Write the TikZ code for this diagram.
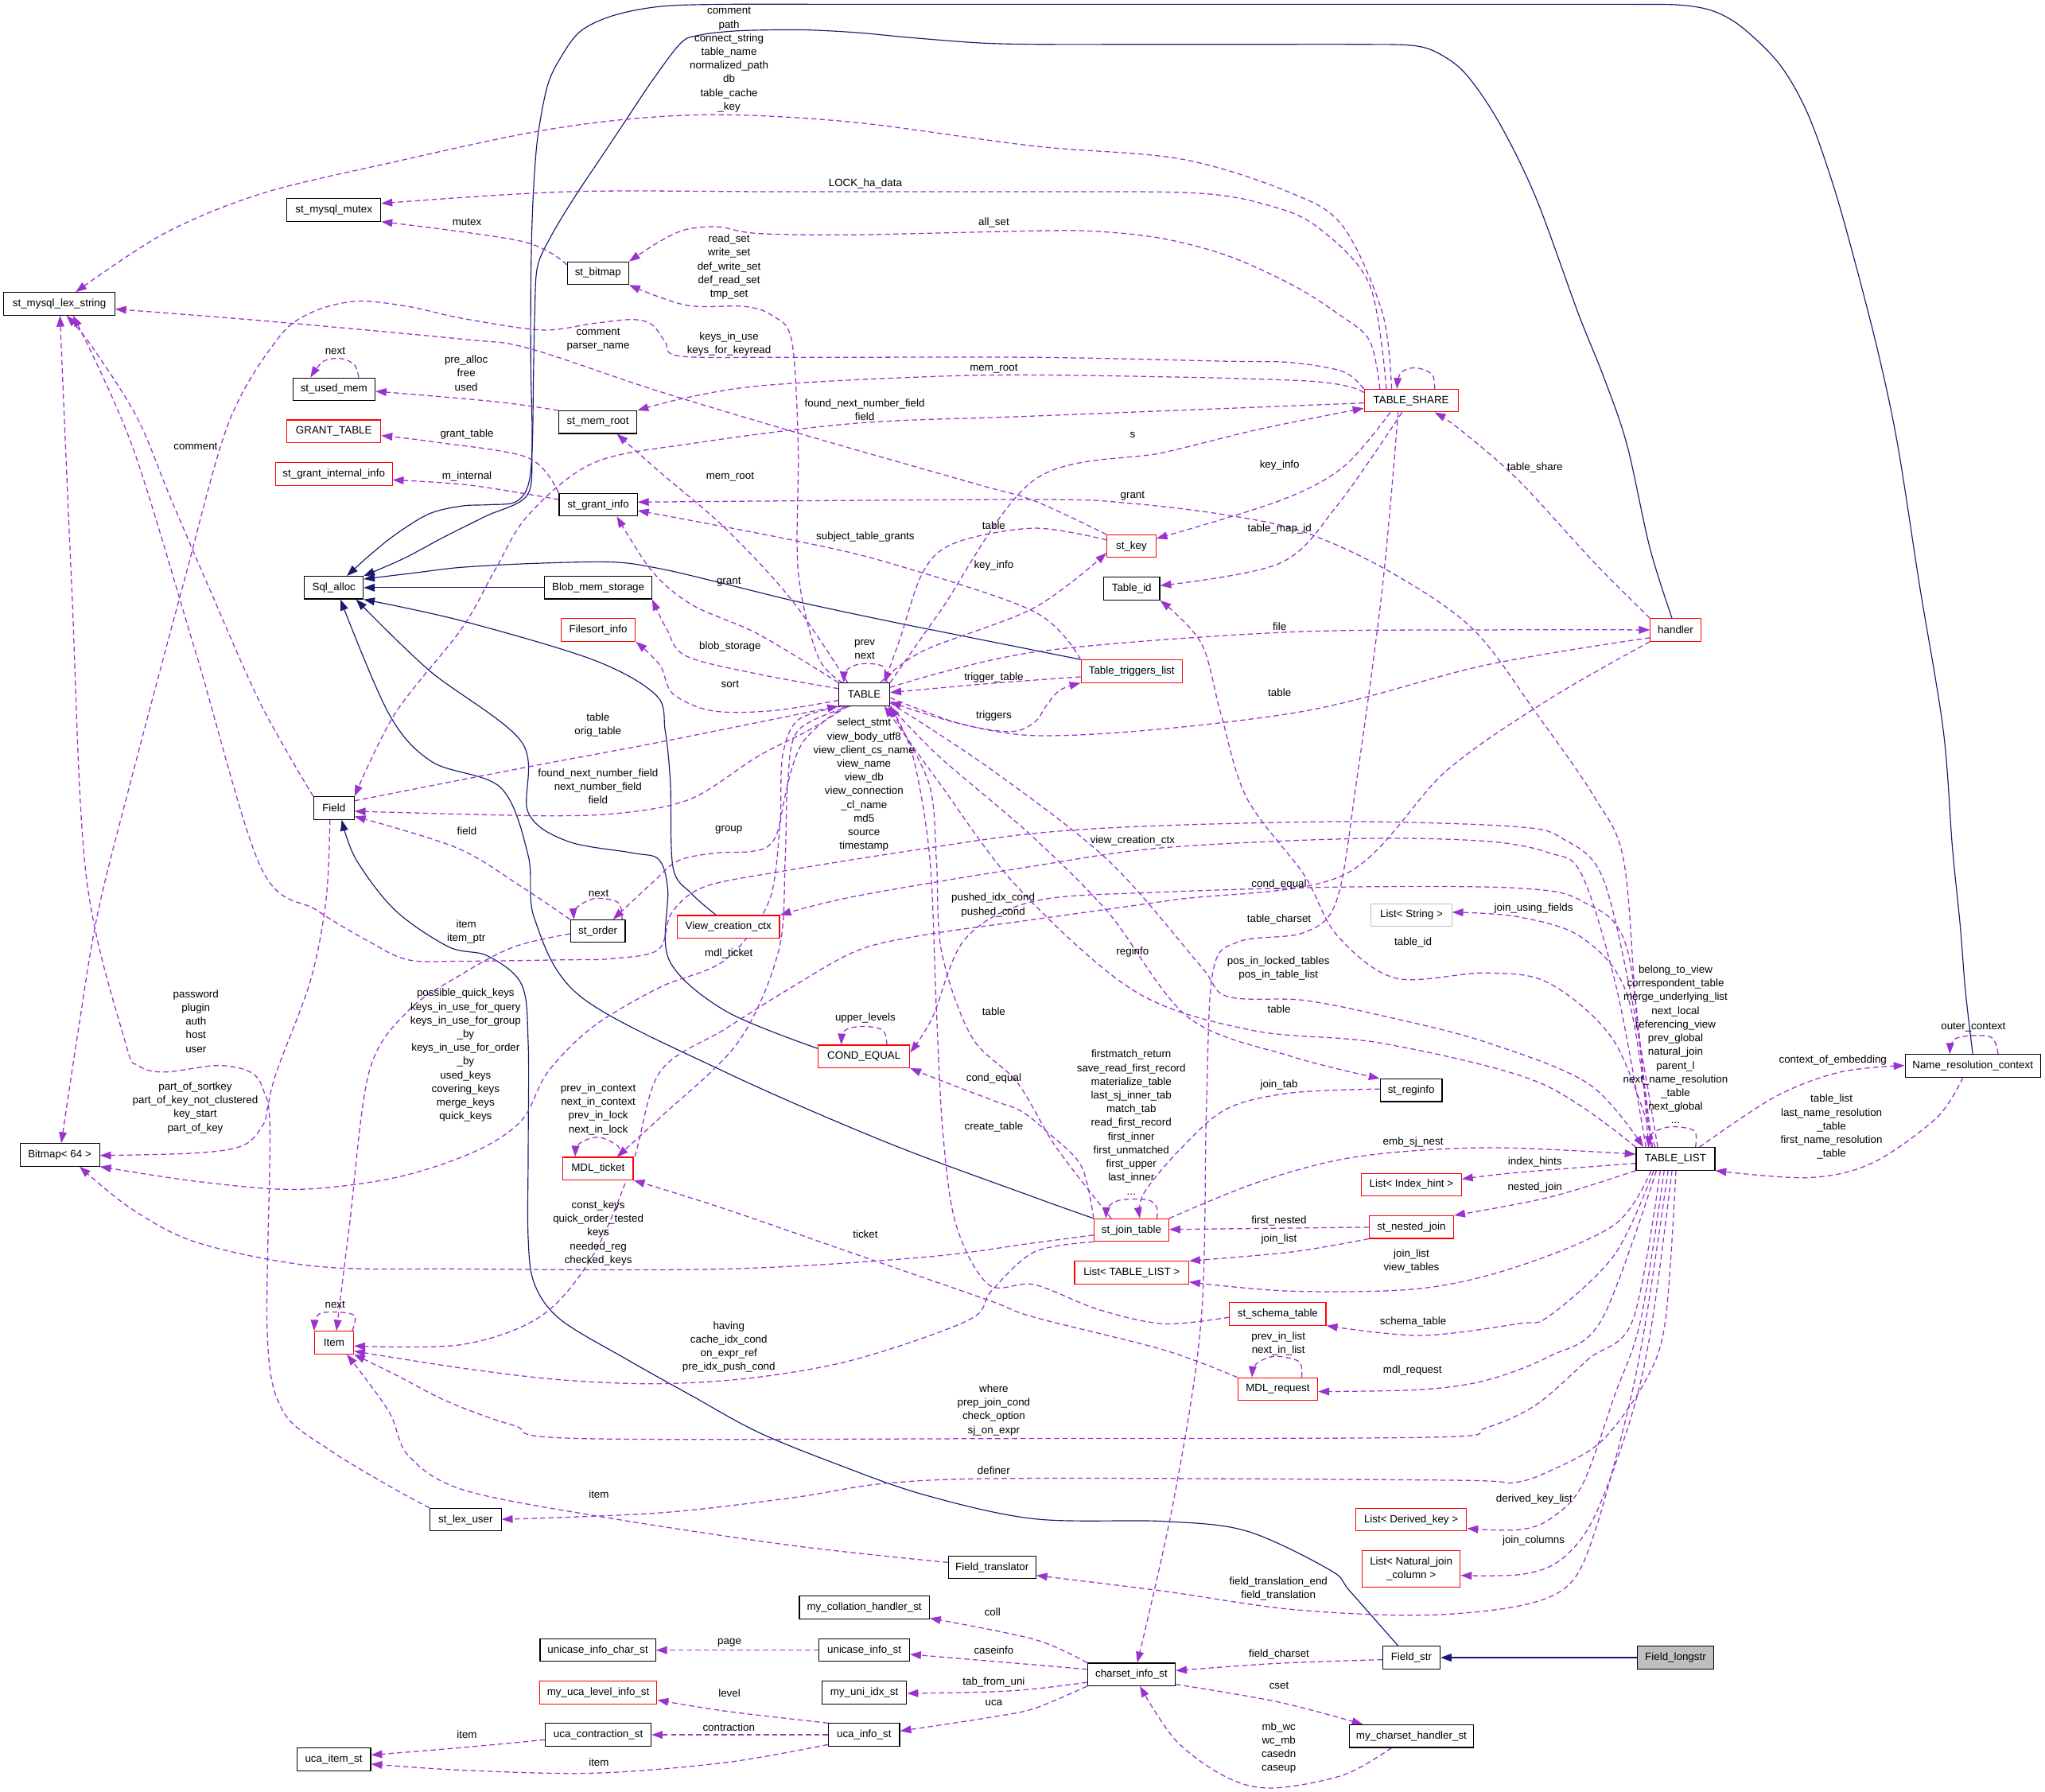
\documentclass[tikz,border=0pt]{standalone}
\usepackage{fontspec}
\setmainfont{Liberation Sans}
\usetikzlibrary{arrows.meta,calc,backgrounds}
\definecolor{edgec}{HTML}{9A32CD}
\definecolor{inhc}{HTML}{191970}
\definecolor{gbord}{HTML}{BFBFBF}
\newcommand\labfont{\fontsize{5.8}{7.47}\selectfont}
\begin{document}
\begin{tikzpicture}[x=0.025cm,y=-0.025cm,
  box/.style={draw=black,fill=white,line width=0.5pt,minimum height=0.4325cm,inner sep=0pt,font=\labfont},
  rbox/.style={box,draw=red},
  gbox/.style={box,draw=gbord},
  W/.style={minimum width=#1*0.025cm},
  ed/.style={draw=edgec,line width=0.55pt,dash pattern=on 2.8pt off 1.8pt,-{Triangle[length=6pt,width=4.2pt]}},
  inh/.style={draw=inhc,line width=0.5pt,-{Triangle[length=6pt,width=4.2pt]}},
  lbl/.style={font=\labfont,align=center,inner sep=0pt},
  sm/.style={smooth,tension=0.55}]
\path[use as bounding box] (0,0) rectangle (1568,1374);
% ---------------- nodes
\node[box,W=85] (lex) at (45.5,233) {st\_mysql\_lex\_string};
\node[box,W=72] (mutex) at (256,161) {st\_mysql\_mutex};
\node[box,W=47] (bitmap) at (458.5,209.5) {st\_bitmap};
\node[box,W=63] (usedmem) at (256,298.4) {st\_used\_mem};
\node[box,W=60] (memroot) at (458.4,323.7) {st\_mem\_root};
\node[rbox,W=72] (granttable) at (256,330.7) {GRANT\_TABLE};
\node[rbox,W=89.5] (gii) at (256,363.5) {st\_grant\_internal\_info};
\node[box,W=60] (grantinfo) at (458.7,387) {st\_grant\_info};
\node[box,W=45] (sqlalloc) at (256,450.6) {Sql\_alloc};
\node[box,W=82] (blob) at (458.7,450.6) {Blob\_mem\_storage};
\node[rbox,W=57] (filesort) at (458.7,483) {Filesort\_info};
\node[box,W=39] (table) at (662.7,532.4) {TABLE};
\node[box,W=31] (field) at (256,619.6) {Field};
\node[box,W=42] (order) at (458.4,714) {st\_order};
\node[rbox,W=78.4] (vcc) at (558.5,710.6) {View\_creation\_ctx};
\node[rbox,W=70] (condeq) at (662.5,810) {COND\_EQUAL};
\node[box,W=61] (bitmap64) at (45.8,885.5) {Bitmap< 64 >};
\node[rbox,W=54] (mdlticket) at (458.5,896) {MDL\_ticket};
\node[rbox,W=30] (item) at (256.1,1029.5) {Item};
\node[box,W=54.6] (lexuser) at (357,1165.2) {st\_lex\_user};
\node[box,W=67] (ftrans) at (760.7,1201.9) {Field\_translator};
\node[box,W=99.6] (collh) at (662.7,1232.6) {my\_collation\_handler\_st};
\node[box,W=88.5] (uics) at (458.4,1265.3) {unicase\_info\_char\_st};
\node[box,W=69.4] (uis) at (662.7,1265.3) {unicase\_info\_st};
\node[rbox,W=90] (ucalevel) at (458.7,1297.8) {my\_uca\_level\_info\_st};
\node[box,W=65] (uniidx) at (662.7,1297.8) {my\_uni\_idx\_st};
\node[box,W=81] (ucacontr) at (458.7,1330.2) {uca\_contraction\_st};
\node[box,W=54.6] (ucainfo) at (662.5,1330.2) {uca\_info\_st};
\node[box,W=56.6] (ucaitem) at (255.9,1349) {uca\_item\_st};
\node[rbox,W=72] (tshare) at (1082,307.2) {TABLE\_SHARE};
\node[rbox,W=37.5] (stkey) at (867.5,418.8) {st\_key};
\node[box,W=43] (tableid) at (867.7,451.3) {Table\_id};
\node[rbox,W=38.6] (handler) at (1284.7,483) {handler};
\node[rbox,W=77.6] (ttl) at (867.7,514.7) {Table\_triggers\_list};
\node[gbox,W=61.8] (liststring) at (1082.2,701.6) {List< String >};
\node[box,W=47.4] (reginfo) at (1082,836) {st\_reginfo};
\node[box,W=103.8] (nrc) at (1512.6,817.2) {Name\_resolution\_context};
\node[box,W=60.3] (tlist) at (1284.7,888.6) {TABLE\_LIST};
\node[rbox,W=76.6] (listidx) at (1082.2,908.3) {List< Index\_hint >};
\node[rbox,W=57.3] (jointab) at (867.5,943.2) {st\_join\_table};
\node[rbox,W=64.7] (nestedjoin) at (1082.2,940.9) {st\_nested\_join};
\node[rbox,W=87.5] (listtl) at (867.7,975.8) {List< TABLE\_LIST >};
\node[rbox,W=74] (schema) at (979.7,1007.5) {st\_schema\_table};
\node[rbox,W=61.3] (mdlreq) at (979.7,1065.1) {MDL\_request};
\node[rbox,W=85] (listdk) at (1082,1165.2) {List< Derived\_key >};
\node[rbox,W=75.2,minimum height=0.7cm,align=center] (listnj) at (1082,1202.9) {List< Natural\_join\\\_column >};
\node[box,W=44] (fieldstr) at (1082.2,1271) {Field\_str};
\node[box,W=58.3,fill=gbord] (fieldlong) at (1284.7,1271) {Field\_longstr};
\node[box,W=67.3] (charset) at (867.5,1283.9) {charset\_info\_st};
\node[box,W=95.4] (charseth) at (1082.2,1331.2) {my\_charset\_handler\_st};
% ---------------- edges
\begin{pgfonlayer}{background}
\fill[white] (0,0) rectangle (1568,1374);
% inheritance
\draw[inh] plot[sm] coordinates {(nrc.north) (1507,760) (1503,710) (1497,650) (1490,560) (1472,450) (1455,341) (1440,270) (1421,196) (1405,140) (1386,87) (1365,50) (1337,22) (1315,9) (1290,4) (1250,3.3) (1150,3.3) (1050,3.3) (950,3.3) (850,3.3) (750,3.3) (650,3.3) (556,3.3) (506,5) (470,12) (445,24) (430,44) (420,65) (413,100) (410,130) (408,170) (407,220) (407,280) (408,341) (405,372) (395,385) (375,387) (354,388) (329,394) (303,410) (282,427) (sqlalloc.north -| 266,0)};
\draw[inh] plot[sm] coordinates {(handler.north -| 1282,0) (1265,420) (1247.6,341.5) (1230,290) (1210,240) (1178,152.5) (1150,95) (1125,58) (1105,42) (1084,35) (1040,34) (960,34) (880,34) (800,34) (753,33) (700,29) (657,25) (620,23) (587,23) (560,24) (536,27) (522,33) (500,62) (480,92) (460,122) (440,152) (422,182) (412,205) (410,240) (409,290) (408,345) (404,380) (372,396) (340,412) (310,428) (sqlalloc.north east)};
\draw[inh] (blob.west) -- (sqlalloc.east);
\draw[inh] plot[sm] coordinates {(ttl.north west) (740,488) (680,476) (610,461) (549,446) (506,436) (470,431) (410,432) (354,435) (320,439) (sqlalloc.east |- 0,444)};
\draw[inh] plot[sm] coordinates {(vcc.north -| 549,0) (530,685) (516,665) (514,600) (510,560) (503,533) (455,506) (354,476) (sqlalloc.south east)};
\draw[inh] plot[sm] coordinates {(condeq.west |- 0,804) (556,775) (513,736) (512,682) (505,659) (485,654) (435,645) (405,623) (400,569) (329,514) (sqlalloc.south -| 273,0)};
\draw[inh] plot[sm] coordinates {(jointab.north west) (793,918) (680,876) (556,822) (445,764) (410,705) (405,656) (384,604) (331,584) (298,547) (sqlalloc.south -| 261,0)};
\draw[inh] plot[sm] coordinates {(fieldstr.north -| 1072,0) (1035,1220) (1020,1204) (956,1174) (892,1166.5) (793,1164.6) (708,1146) (640,1122) (581,1098) (530,1070) (480,1042) (430,1012) (410,985) (405,950) (405,880) (405,800) (400,755) (374,733) (344,726) (303,698) (273,659) (field.south -| 262,0)};
\draw[inh,line width=0.9pt] (fieldlong.west) -- (fieldstr.east);
% usage edges
\draw[ed] plot[sm] coordinates {(tshare.north -| 1067,0) (1060,240) (1030,174) (990,148) (906,122) (793,112) (657,94) (556,88) (480,91.5) (405,102) (303,124) (202,148) (126,179) (lex.north -| 58,0)};
\draw[ed] plot[sm] coordinates {(tshare.north -| 1063,0) (1050,218) (1010,174) (971,157) (916,148) (793,147) (600,147) (435,147) (mutex.east |- 0,156)};
\draw[ed] plot[sm] coordinates {(tshare.north -| 1058,0) (1050,261) (1025,240) (990,218) (941,196) (892,183) (842,177.5) (793,177) (657,180) (581,179) (551,174) (526,176) (506,185) (bitmap.north east)};
\draw[ed] plot[sm] coordinates {(tshare.north -| 1100,0) (1098,287) (1085,282) (1074,286) (tshare.north -| 1071,0)};
\draw[ed] plot[sm] coordinates {(tshare.north west) (1030,285) (990,278) (941,277) (793,274) (600,274) (521,273) (510,262) (500,249) (485,245) (455,248) (415,253) (354,244) (313,235) (273,231) (238,240) (212,261) (175,325) (140,450) (100,600) (75,700) (60,790) (bitmap64.north -| 47,0)};
\draw[ed] plot[sm] coordinates {(stkey.north west) (793,384) (748,371) (622,335) (505,300) (405,267) (354,260) (202,246) (lex.east |- 0,237)};
\draw[ed] plot[sm] coordinates {(bitmap.west |- 0,203) (400,185) (mutex.south east)};
\draw[ed] plot[sm] coordinates {(table.north -| 646,0) (627,503) (612,438) (612,342) (607,261) (592,242) (571,235) (526,234) (bitmap.south east)};
\draw[ed] plot[sm] coordinates {(usedmem.north -| 275,0) (272,280) (262,275) (248,277) (usedmem.north -| 238,0)};
\draw[ed] plot[sm] coordinates {(memroot.north west) (380,308) (usedmem.east |- 0,300)};
\draw[ed] plot[sm] coordinates {(tshare.west |- 0,301) (1000,292) (793,287.5) (683,290) (581,296) (526,305) (memroot.north east)};
\draw[ed] plot[sm] coordinates {(tshare.west |- 0,309) (793,319) (657,324.5) (531,340) (455,355) (405,395) (379,438) (354,482) (303,547) (field.north east)};
\draw[ed] plot[sm] coordinates {(grantinfo.north west) (405,351) (334,339) (granttable.east |- 0,334)};
\draw[ed] plot[sm] coordinates {(grantinfo.west |- 0,383) (360,372) (gii.east |- 0,368)};
\draw[ed] plot[sm] coordinates {(table.north -| 650,0) (607,460) (556,405) (506,362) (memroot.south -| 473,0)};
\draw[ed] plot[sm] coordinates {(table.north west) (581,486) (531,464) (500,438) (grantinfo.south -| 473,0)};
\draw[ed] plot[sm] coordinates {(tlist.north -| 1267,0) (1255,780) (1245,660) (1223,612) (1178,547) (1129,482) (1065,438) (1000,408) (941,395) (867,386) (793,383) (grantinfo.east |- 0,385)};
\draw[ed] plot[sm] coordinates {(ttl.north west) (793,469) (683,432) (607,414) (grantinfo.east |- 0,391.5)};
\draw[ed] plot[sm] coordinates {(table.north -| 680,0) (677,511) (660,509) (649,514) (table.north -| 647,0)};
\draw[ed] plot[sm] coordinates {(table.north -| 675,0) (708,499) (793,466) (stkey.west |- 0,424)};
\draw[ed] plot[sm] coordinates {(tshare.south -| 1066,0) (1030,358) (981,384) (stkey.east |- 0,413)};
\draw[ed] plot[sm] coordinates {(stkey.west |- 0,414) (793,405) (733,416) (708,438) (690,490) (table.north -| 678,0)};
\draw[ed] plot[sm] coordinates {(tshare.south -| 1075,0) (1025,388) (981,432) (tableid.east |- 0,449)};
\draw[ed] plot[sm] coordinates {(tlist.north -| 1269,0) (1238,799) (1188,754) (1139,746) (1070,750) (1025,717) (1000,671) (956,612) (936,547) (921,493) (tableid.south east)};
\draw[ed] plot[sm] coordinates {(handler.north west) (1223,432) (1164,368) (1119,329) (tshare.south -| 1100,0)};
\draw[ed] plot[sm] coordinates {(table.north east) (720,470) (793,368) (892,347) (966,329) (tshare.west |- 0,313)};
\draw[ed] plot[sm] coordinates {(table.east |- 0,527) (793,500) (981,485) (1139,483) (handler.west)};
\draw[ed] plot[sm] coordinates {(handler.west |- 0,489) (1139,510) (990,547) (793,564) (table.east |- 0,538)};
\draw[ed] plot[sm] coordinates {(ttl.west |- 0,519) (760,524) (table.east |- 0,531)};
\draw[ed] plot[sm] coordinates {(table.east |- 0,535) (733,554) (774,561) (793,554) (803,540) (813,529) (ttl.south west)};
\draw[ed] plot[sm] coordinates {(table.west |- 0,528) (582,517) (526,503) (511,482) (blob.south east)};
\draw[ed] plot[sm] coordinates {(table.west |- 0,537) (592,545) (546,545) (516,532) (506,510) (filesort.south east)};
\draw[ed] plot[sm] coordinates {(field.east |- 0,614) (405,588) (506,569) (table.south west)};
\draw[ed] plot[sm] coordinates {(table.south -| 650,0) (620,560) (581,580) (531,612) (480,623) (415,625.5) (field.east |- 0,622)};
\draw[ed] plot[sm] coordinates {(table.south -| 646,0) (612,552) (600,580) (598,630) (590,648) (575,653) (549,654) (520,660) (500,677) (order.north -| 470,0)};
\draw[ed] plot[sm] coordinates {(order.north -| 477,0) (474,692) (456,689) (442,696) (order.north -| 440,0)};
\draw[ed] plot[sm] coordinates {(order.north west) (400,680) (350,650) (field.east |- 0,626)};
\draw[ed] plot[sm] coordinates {(order.west |- 0,716) (394,726) (354,747) (313,775) (283,822) (268,939) (item.north -| 258,0)};
\draw[ed] plot[sm] coordinates {(tlist.north -| 1262,0) (1240,760) (1213,671) (1188,654) (1139,645) (1040,643) (892,650) (793,664) (657,687) (vcc.north east)};
\draw[ed] plot[sm] coordinates {(tlist.north -| 1271,0) (1250,760) (1228,671) (1198,643) (1164,634) (1040,630) (892,633) (793,639) (700,652) (600,668) (540,680) (515,700) (505,728) (470,735) (430,736) (354,737) (313,736) (283,722) (243,698) (200,665) (150,500) (101,341) (lex.south -| 56,0)};
\draw[ed] plot[sm] coordinates {(tlist.north -| 1264,0) (1248,729) (1213,691) (1164,681) (1040,680) (892,684) (793,691) (740,720) (715,780) (condeq.east |- 0,807)};
\draw[ed] plot[sm] coordinates {(tshare.south -| 1072,0) (1060,450) (1040,600) (1025,690) (1000,715) (950,722) (930,745) (925,850) (921,1012) (900,1150) (charset.north -| 872,0)};
\draw[ed] plot[sm] coordinates {(table.south east) (720,580) (790,640) (850,700) (911,780) (990,810) (reginfo.north west)};
\draw[ed] plot[sm] coordinates {(table.east |- 0,539) (760,590) (850,660) (920,740) (941,764) (1000,767) (1065,780) (1139,799) (1218,831) (tlist.north -| 1260,0)};
\draw[ed] plot[sm] coordinates {(tlist.north west) (1180,830) (1060,800) (960,790) (870,760) (780,680) (720,600) (table.south -| 678,0)};
\draw[ed] plot[sm] coordinates {(tlist.north -| 1300,0) (1299,867) (1281,864) (1267,869) (tlist.north -| 1264,0)};
\draw[ed] plot[sm] coordinates {(nrc.north -| 1532,0) (1526,795) (1500,796) (nrc.north -| 1495,0)};
\draw[ed] plot[sm] coordinates {(tlist.north -| 1303,0) (1361,841) (1411,822) (nrc.west |- 0,817)};
\draw[ed] plot[sm] coordinates {(nrc.south -| 1505,0) (1485,857) (1435,892) (1386,903) (tlist.south east)};
\draw[ed] plot[sm] coordinates {(tlist.north -| 1266,0) (1248,764) (1213,719) (1164,703) (liststring.east |- 0,699.5)};
\draw[ed] plot[sm] coordinates {(reginfo.west |- 0,835) (990,838) (941,850) (906,880) (877,915) (jointab.north -| 874,0)};
\draw[ed] plot[sm] coordinates {(jointab.north -| 887,0) (887,926) (880,920) (860,920) (850,925) (jointab.north -| 848,0)};
\draw[ed] plot[sm] coordinates {(jointab.north east) (966,906) (1040,887) (1139,880) (tlist.west |- 0,885)};
\draw[ed] plot[sm] coordinates {(tlist.west |- 0,892) (1164,899) (listidx.east |- 0,904)};
\draw[ed] plot[sm] coordinates {(tlist.south west) (1188,918) (nestedjoin.north east)};
\draw[ed] (nestedjoin.west |- 0,941) -- (jointab.east |- 0,942.7);
\draw[ed] plot[sm] coordinates {(nestedjoin.south west) (990,960) (listtl.north east)};
\draw[ed] plot[sm] coordinates {(tlist.south -| 1266,0) (1238,939) (1164,971) (1089,988) (990,990) (listtl.east |- 0,983)};
\draw[ed] plot[sm] coordinates {(tlist.south -| 1268,0) (1238,962) (1188,1009) (1164,1015) (1089,1024) (schema.south east)};
\draw[ed] plot[sm] coordinates {(tlist.south -| 1270,0) (1228,1012) (1188,1040) (1139,1058.5) (1089,1065.5) (mdlreq.east |- 0,1067)};
\draw[ed] plot[sm] coordinates {(mdlreq.north -| 998,0) (996,1044) (977,1040) (963,1046) (mdlreq.north -| 960,0)};
\draw[ed] plot[sm] coordinates {(mdlreq.north west) (892,1035) (793,1010) (758,997) (657,962) (556,927) (mdlticket.south east)};
\draw[ed] plot[sm] coordinates {(mdlticket.north -| 476,0) (474,879) (459,872) (444,877) (mdlticket.north -| 441,0)};
\draw[ed] plot[sm] coordinates {(table.south -| 652,0) (612,560) (604,600) (602,660) (597,729) (566,799) (506,857) (mdlticket.north -| 473,0)};
\draw[ed] plot[sm] coordinates {(condeq.north -| 680,0) (677,790) (662,787) (648,790) (condeq.north -| 645,0)};
\draw[ed] plot[sm] coordinates {(jointab.north west) (829,894) (803,868) (783,852) (762,844) (720,828) (condeq.south east)};
\draw[ed] plot[sm] coordinates {(jointab.north -| 852,0) (810,880) (780,830) (745,795) (722,730) (718,660) (712,600) (table.south -| 681,0)};
\draw[ed] plot[sm] coordinates {(schema.west |- 0,1010) (892,1015) (842,1004) (793,985) (758,985) (733,939) (723,869) (718,775) (713,659) (700,580) (table.south east)};
\draw[ed] plot[sm] coordinates {(handler.south west) (1188,536) (1109,591) (1030,671) (900,690) (793,705) (708,717) (657,729) (607,757) (556,789) (506,822) (485,892) (455,962) (415,1009) (354,1031) (item.east |- 0,1032)};
\draw[ed] plot[sm] coordinates {(table.south -| 648,0) (615,570) (600,620) (590,690) (556,736) (506,757) (455,787) (420,822) (400,859) (364,883) (303,903) (228,912) (152,906) (bitmap64.south east)};
\draw[ed] plot[sm] coordinates {(field.south -| 253,0) (250,690) (238,752) (212,822) (205,850) (202,862) (187,878) (152,884) (bitmap64.east |- 0,886)};
\draw[ed] plot[sm] coordinates {(jointab.west |- 0,947) (793,953) (708,964) (556,973) (354,973) (243,971) (152,953) (101,927) (bitmap64.south -| 61,0)};
\draw[ed] plot[sm] coordinates {(lexuser.north west) (303,1142) (253,1112) (217,1082) (205,1025) (207,869) (202,836) (192,822) (167,817) (126,822) (106,817) (96,799) (66,671) (55,450) (lex.south -| 46,0)};
\draw[ed] plot[sm] coordinates {(field.north west) (200,540) (160,450) (130,380) (105,320) (70,265) (lex.south -| 51,0)};
\draw[ed] plot[sm] coordinates {(jointab.south west) (793,960) (760,990) (743,1012) (657,1042) (581,1056) (506,1061) (430,1058) (354,1049) (item.east |- 0,1036)};
\draw[ed] plot[sm] coordinates {(tlist.south -| 1273,0) (1252,1012) (1218,1042) (1178,1077) (1139,1095) (1099,1102) (793,1103) (445,1103) (394,1093) (344,1075) (303,1054) (item.south east)};
\draw[ed] plot[sm] coordinates {(tlist.south -| 1285,0) (1277,1012) (1262,1058) (1228,1105) (1188,1128) (1159,1137) (1114,1135) (793,1133.5) (683,1137) (607,1148.5) (506,1160) (lexuser.east |- 0,1165)};
\draw[ed] plot[sm] coordinates {(ftrans.west |- 0,1198) (607,1185) (455,1162) (354,1142) (313,1116) (298,1082) (item.south -| 266,0)};
\draw[ed] plot[sm] coordinates {(item.north -| 270,0) (272,1009) (258,1006) (244,1008) (item.north west)};
\draw[ed] plot[sm] coordinates {(tlist.south -| 1279,0) (1262,1012) (1248,1082) (1223,1174) (1203,1215) (1164,1231.5) (1089,1238.5) (990,1234) (892,1220) (ftrans.east |- 0,1208)};
\draw[ed] plot[sm] coordinates {(tlist.south -| 1276,0) (1258,1012) (1238,1070) (1213,1139) (1188,1165) (1164,1173) (listdk.east |- 0,1172)};
\draw[ed] plot[sm] coordinates {(tlist.south -| 1282,0) (1267,1012) (1252,1082) (1223,1162) (1198,1195) (1168,1207) (listnj.east |- 0,1208)};
\draw[ed] plot[sm] coordinates {(ucacontr.west |- 0,1334) (354,1340) (ucaitem.east |- 0,1345.7)};
\draw[ed] plot[sm] coordinates {(ucainfo.west |- 0,1337.7) (556,1351.5) (455,1359.6) (354,1357.3) (ucaitem.east |- 0,1352.6)};
\draw[ed] (ucainfo.west) -- (ucacontr.east);
\draw[ed] plot[sm] coordinates {(ucainfo.north west) (556,1312) (ucalevel.east |- 0,1303.5)};
\draw[ed] (uis.west) -- (uics.east);
\draw[ed] plot[sm] coordinates {(charset.north west) (793,1257) (collh.east |- 0,1240.8)};
\draw[ed] plot[sm] coordinates {(charset.west |- 0,1280) (793,1276.5) (uis.east |- 0,1268.5)};
\draw[ed] plot[sm] coordinates {(charset.west |- 0,1290) (793,1295) (758,1297.3) (uniidx.east |- 0,1298.4)};
\draw[ed] plot[sm] coordinates {(charset.south west) (793,1310) (758,1317) (ucainfo.east |- 0,1327.3)};
\draw[ed] plot[sm] coordinates {(fieldstr.west |- 0,1272.6) (980,1275.4) (charset.east |- 0,1281)};
\draw[ed] plot[sm] coordinates {(charset.east |- 0,1291.5) (980,1305) (charseth.north -| 1045,0)};
\draw[ed] plot[sm] coordinates {(charseth.south -| 1067,0) (1030,1361) (976,1371) (941,1363) (902,1335) (charset.south -| 874,0)};
\end{pgfonlayer}
% ---------------- labels
\node[lbl] (la1) at (559,45.85) {comment\\path\\connect\_string\\table\_name\\normalized\_path\\db\\table\_cache\\\_key};
\node[lbl] (la2) at (663.5,141) {LOCK\_ha\_data};
\node[lbl] (la3) at (358,170) {mutex};
\node[lbl] (la4) at (762,171) {all\_set};
\node[lbl] (la5) at (559,204.7) {read\_set\\write\_set\\def\_write\_set\\def\_read\_set\\tmp\_set};
\node[lbl] (la6) at (458.7,260.5) {comment\\parser\_name};
\node[lbl] (la7) at (559,263.6) {keys\_in\_use\\keys\_for\_keyread};
\node[lbl] (la8) at (257,269) {next};
\node[lbl] (la9) at (357.5,286.1) {pre\_alloc\\free\\used};
\node[lbl] (la10) at (762,282.5) {mem\_root};
\node[lbl] (la11) at (663,314.2) {found\_next\_number\_field\\field};
\node[lbl] (la12) at (358,333) {grant\_table};
\node[lbl] (la13) at (150,342) {comment};
\node[lbl] (la14) at (358,365.2) {m\_internal};
\node[lbl] (la15) at (559.8,365.9) {mem\_root};
\node[lbl] (la16) at (762,403) {table};
\node[lbl] (la17) at (663.5,411.6) {subject\_table\_grants};
\node[lbl] (la18) at (762,433.9) {key\_info};
\node[lbl] (la19) at (558.8,446.3) {grant};
\node[lbl] (la20) at (559.8,496) {blob\_storage};
\node[lbl] (la21) at (663,497.8) {prev\\next};
\node[lbl] (la22) at (762,519.5) {trigger\_table};
\node[lbl] (la23) at (559.8,524.9) {sort};
\node[lbl] (la24) at (762,548.9) {triggers};
\node[lbl] (la25) at (458.5,555.7) {table\\orig\_table};
\node[lbl] (la26) at (662.5,601.9) {select\_stmt\\view\_body\_utf8\\view\_client\_cs\_name\\view\_name\\view\_db\\view\_connection\\\_cl\_name\\md5\\source\\timestamp};
\node[lbl] (la27) at (458.5,603) {found\_next\_number\_field\\next\_number\_field\\field};
\node[lbl] (la28) at (358,636.9) {field};
\node[lbl] (la29) at (558.8,636.4) {group};
\node[lbl] (la30) at (868.4,333.7) {s};
\node[lbl] (la31) at (981.1,356.5) {key\_info};
\node[lbl] (la32) at (1176.9,358.3) {table\_share};
\node[lbl] (la33) at (868.4,380) {grant};
\node[lbl] (la34) at (981.1,405.3) {table\_map\_id};
\node[lbl] (la35) at (981.1,480.2) {file};
\node[lbl] (la36) at (981.1,531) {table};
\node[lbl] (la37) at (868.4,644.7) {view\_creation\_ctx};
\node[lbl] (la38) at (459,684.8) {next};
\node[lbl] (la39) at (357.5,714.3) {item\\item\_ptr};
\node[lbl] (la40) at (558.8,731) {mdl\_ticket};
\node[lbl] (la41) at (761.5,694) {pushed\_idx\_cond\\pushed\_cond};
\node[lbl] (la42) at (150.2,783) {password\\plugin\\auth\\host\\user};
\node[lbl] (la43) at (357,809.2) {possible\_quick\_keys\\keys\_in\_use\_for\_query\\keys\_in\_use\_for\_group\\\_by\\keys\_in\_use\_for\_order\\\_by\\used\_keys\\covering\_keys\\merge\_keys\\quick\_keys};
\node[lbl] (la44) at (663.5,780.5) {upper\_levels};
\node[lbl] (la45) at (762,775.4) {table};
\node[lbl] (la46) at (762,827.2) {cond\_equal};
\node[lbl] (la47) at (149.7,849.5) {part\_of\_sortkey\\part\_of\_key\_not\_clustered\\key\_start\\part\_of\_key};
\node[lbl] (la48) at (458.7,850.6) {prev\_in\_context\\next\_in\_context\\prev\_in\_lock\\next\_in\_lock};
\node[lbl] (la49) at (762,864.1) {create\_table};
\node[lbl] (la50) at (458.7,945.5) {const\_keys\\quick\_order\_tested\\keys\\needed\_reg\\checked\_keys};
\node[lbl] (la51) at (663.5,946.2) {ticket};
\node[lbl] (la52) at (256.9,1000.1) {next};
\node[lbl] (la53) at (558.8,1032.9) {having\\cache\_idx\_cond\\on\_expr\_ref\\pre\_idx\_push\_cond};
\node[lbl] (la54) at (762,1081.2) {where\\prep\_join\_cond\\check\_option\\sj\_on\_expr};
\node[lbl] (la55) at (762,1127.3) {definer};
\node[lbl] (la56) at (459.2,1145.7) {item};
\node[lbl] (la57) at (761,1236.2) {coll};
\node[lbl] (la58) at (559.3,1259.5) {page};
\node[lbl] (la59) at (762,1265.5) {caseinfo};
\node[lbl] (la60) at (559.3,1298.4) {level};
\node[lbl] (la61) at (762,1289.9) {tab\_from\_uni};
\node[lbl] (la62) at (762,1305.8) {uca};
\node[lbl] (la63) at (558.8,1324.5) {contraction};
\node[lbl] (la64) at (358,1330.1) {item};
\node[lbl] (la65) at (459.2,1351.5) {item};
\node[lbl] (la66) at (1083.5,1013.9) {schema\_table};
\node[lbl] (la67) at (980.2,1030.5) {prev\_in\_list\\next\_in\_list};
\node[lbl] (la68) at (1083,1050.9) {mdl\_request};
\node[lbl] (la69) at (1176.4,1149.7) {derived\_key\_list};
\node[lbl] (la70) at (1175.9,1181.3) {join\_columns};
\node[lbl] (la71) at (980.2,1218.2) {field\_translation\_end\\field\_translation};
\node[lbl] (la72) at (980.7,1268.4) {field\_charset};
\node[lbl] (la73) at (980.7,1292.7) {cset};
\node[lbl] (la74) at (980.5,1340.3) {mb\_wc\\wc\_mb\\casedn\\caseup};
\node[lbl] (la75) at (980.7,678.5) {cond\_equal};
\node[lbl] (la76) at (1175.9,696.7) {join\_using\_fields};
\node[lbl] (la77) at (980.7,704.7) {table\_charset};
\node[lbl] (la78) at (1083.5,722.4) {table\_id};
\node[lbl] (la79) at (868.4,729.9) {reginfo};
\node[lbl] (la80) at (980.2,742.7) {pos\_in\_locked\_tables\\pos\_in\_table\_list};
\node[lbl] (la81) at (980.7,773.8) {table};
\node[lbl] (la82) at (1284.7,801) {belong\_to\_view\\correspondent\_table\\merge\_underlying\_list\\next\_local\\referencing\_view\\prev\_global\\natural\_join\\parent\_l\\next\_name\_resolution\\\_table\\next\_global\\...};
\node[lbl] (la83) at (1513,787.8) {outer\_context};
\node[lbl] (la84) at (1405.3,812.7) {context\_of\_embedding};
\node[lbl] (la85) at (1404.3,864.1) {table\_list\\last\_name\_resolution\\\_table\\first\_name\_resolution\\\_table};
\node[lbl] (la86) at (980.7,831.9) {join\_tab};
\node[lbl] (la87) at (867.4,860.6) {firstmatch\_return\\save\_read\_first\_record\\materialize\_table\\last\_sj\_inner\_tab\\match\_tab\\read\_first\_record\\first\_inner\\first\_unmatched\\first\_upper\\last\_inner\\...};
\node[lbl] (la88) at (1083.5,875.7) {emb\_sj\_nest};
\node[lbl] (la89) at (1176.9,890.9) {index\_hints};
\node[lbl] (la90) at (1176.9,910.3) {nested\_join};
\node[lbl] (la91) at (980.7,936) {first\_nested};
\node[lbl] (la92) at (980.7,950.4) {join\_list};
\node[lbl] (la93) at (1082.2,967.1) {join\_list\\view\_tables};
\end{tikzpicture}
\end{document}
